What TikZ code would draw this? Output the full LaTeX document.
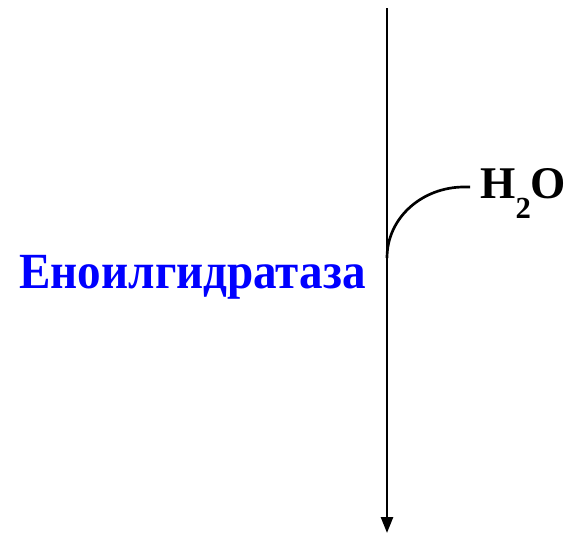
\documentclass[tikz,border=0pt]{standalone}
\usepackage{fontspec}
\setmainfont{Liberation Serif}
\usepackage{tikz}
\usetikzlibrary{positioning,arrows.meta,calc}
\definecolor{enzblue}{RGB}{0,0,255}
\tikzset{
  reaction/.style={line width=2pt,-{Triangle[length=12pt,width=9pt]}},
  branch/.style={line width=2pt},
  label/.style={inner sep=0pt,font=\bfseries\fontsize{34}{34}\selectfont}
}
\begin{document}
\begin{tikzpicture}[x=0.75pt,y=-0.75pt]
\useasboundingbox (0,0) rectangle (571,533);
% main reaction arrow
\coordinate (start) at (387,8);
\coordinate (end) at (387,533);
\coordinate (join) at (387,258);
\draw[reaction] (start) -- (end);
% enzyme name
\node[label,font=\bfseries\fontsize{38}{38}\selectfont,xscale=0.93,text=enzblue,anchor=base east] (enzyme) at (366,288) {Еноилгидратаза};
% water entering
\node[label,anchor=base west] (water) at (480,198) {H\raisebox{-15pt}{\fontsize{23}{23}\selectfont 2}O};
\draw[branch] (join) to[out=90,in=180] ($(water.west)+(-16,-6)$) -- ($(water.west)+(-10,-6)$);
\end{tikzpicture}
\end{document}
